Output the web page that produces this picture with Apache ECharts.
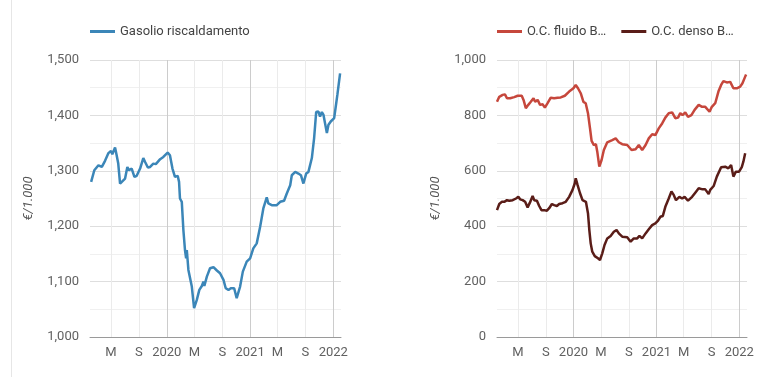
<!DOCTYPE html>
<html>
<head>
<meta charset="utf-8">
<script src="https://cdn.jsdelivr.net/npm/echarts@6/dist/echarts.min.js"></script>
<style>
  html, body { margin: 0; padding: 0; background: #fff; }
  #main { width: 770px; height: 377px; }
  .edge { position: absolute; left: 11px; top: 0; width: 1px; height: 377px; background: #e6e6e6; }
</style>
</head>
<body>
<div class="edge"></div>
<div id="main"></div>
<script>
// x axis: ticks every 4 months (M = maggio, S = settembre, year on gennaio)
const tickDates = ['2019-05-01', '2019-09-01', '2020-01-01', '2020-05-01', '2020-09-01',
  '2021-01-01', '2021-05-01', '2021-09-01', '2022-01-01'];
const xMin = '2019-01-29';
const xMax = '2022-02-04';

// Gasolio riscaldamento, €/1.000
const gasolioDates = ['2019-02-03', '2019-02-17', '2019-03-07', '2019-03-22', '2019-04-05', '2019-04-20', '2019-05-01', '2019-05-07', '2019-05-19', '2019-05-26',
  '2019-06-02', '2019-06-10', '2019-06-17', '2019-07-02', '2019-07-12', '2019-07-19', '2019-07-31', '2019-08-12', '2019-08-22', '2019-08-29',
  '2019-09-06', '2019-09-20', '2019-09-28', '2019-10-10', '2019-10-20', '2019-11-03', '2019-11-14', '2019-12-03', '2019-12-17', '2020-01-05',
  '2020-01-15', '2020-01-26', '2020-02-06', '2020-02-18', '2020-02-24', '2020-02-28', '2020-03-07', '2020-03-14', '2020-03-21', '2020-03-26',
  '2020-03-29', '2020-04-05', '2020-04-12', '2020-04-20', '2020-04-30', '2020-05-12', '2020-05-23', '2020-06-03', '2020-06-10', '2020-06-14',
  '2020-06-25', '2020-07-09', '2020-07-24', '2020-08-08', '2020-08-22', '2020-09-06', '2020-09-16', '2020-09-28', '2020-10-08', '2020-10-23',
  '2020-11-03', '2020-11-18', '2020-11-30', '2020-12-17', '2021-01-01', '2021-01-15', '2021-01-30', '2021-02-14', '2021-02-28', '2021-03-08',
  '2021-03-15', '2021-03-22', '2021-04-06', '2021-04-28', '2021-05-13', '2021-05-30', '2021-06-11', '2021-06-26', '2021-07-03', '2021-07-18',
  '2021-08-01', '2021-08-12', '2021-08-23', '2021-09-04', '2021-09-14', '2021-09-29', '2021-10-09', '2021-10-18', '2021-10-28', '2021-11-04',
  '2021-11-12', '2021-11-19', '2021-11-26', '2021-12-04', '2021-12-11', '2021-12-21', '2022-01-05', '2022-01-14', '2022-01-19', '2022-01-31'];
const gasolioValues = [1280, 1301, 1310, 1307, 1318, 1332, 1336, 1330, 1342, 1328,
  1313, 1277, 1276, 1286, 1307, 1301, 1304, 1289, 1291, 1288,
  1304, 1323, 1316, 1306, 1307, 1313, 1312, 1321, 1325, 1333,
  1328, 1304, 1289, 1291, 1280, 1250, 1244, 1193, 1157, 1142,
  1157, 1121, 1124, 1091, 1052, 1067, 1085, 1092, 1100, 1092,
  1109, 1124, 1126, 1120, 1115, 1103, 1088, 1085, 1088, 1088,
  1070, 1091, 1118, 1136, 1142, 1160, 1169, 1199, 1232, 1235,
  1252, 1241, 1238, 1238, 1244, 1246, 1259, 1274, 1292, 1298,
  1295, 1292, 1277, 1295, 1298, 1323, 1359, 1406, 1407, 1398,
  1406, 1401, 1402, 1368, 1383, 1389, 1395, 1422, 1437, 1476];

// O.C. fluido BTZ
const fluidoDates = ['2019-01-29', '2019-02-08', '2019-02-23', '2019-03-05', '2019-03-14', '2019-03-28', '2019-04-15', '2019-04-30', '2019-05-07', '2019-05-18',
  '2019-05-26', '2019-06-05', '2019-06-16', '2019-06-27', '2019-07-09', '2019-07-16', '2019-07-27', '2019-08-07', '2019-08-18', '2019-08-28',
  '2019-09-09', '2019-09-23', '2019-10-08', '2019-10-23', '2019-11-06', '2019-11-24', '2019-12-13', '2020-01-01', '2020-01-11', '2020-01-21',
  '2020-02-02', '2020-02-14', '2020-02-24', '2020-03-05', '2020-03-14', '2020-03-21', '2020-03-31', '2020-04-09', '2020-04-15', '2020-04-24',
  '2020-05-04', '2020-05-14', '2020-05-29', '2020-06-20', '2020-07-05', '2020-07-19', '2020-08-03', '2020-08-25', '2020-09-13', '2020-10-01',
  '2020-10-15', '2020-10-30', '2020-11-14', '2020-11-28', '2020-12-13', '2020-12-27', '2021-01-11', '2021-01-26', '2021-02-09', '2021-02-24',
  '2021-03-11', '2021-03-25', '2021-04-06', '2021-04-16', '2021-04-26', '2021-05-08', '2021-05-20', '2021-06-04', '2021-06-18', '2021-07-06',
  '2021-07-21', '2021-08-04', '2021-08-23', '2021-09-02', '2021-09-17', '2021-10-01', '2021-10-13', '2021-10-23', '2021-11-07', '2021-11-22',
  '2021-11-29', '2021-12-06', '2021-12-21', '2022-01-05', '2022-01-15', '2022-01-27', '2022-01-31'];
const fluidoValues = [849, 867, 874, 876, 862, 862, 866, 871, 864, 871,
  856, 826, 838, 849, 862, 849, 856, 838, 840, 828,
  844, 864, 862, 864, 865, 871, 886, 898, 910, 898,
  880, 849, 844, 808, 753, 708, 693, 696, 669, 615,
  639, 675, 703, 711, 717, 703, 696, 693, 675, 678,
  693, 675, 693, 717, 732, 729, 753, 771, 792, 808,
  811, 790, 792, 808, 801, 811, 795, 801, 820, 838,
  831, 831, 813, 831, 844, 886, 910, 924, 919, 921,
  916, 898, 898, 904, 916, 940, 948];

// O.C. denso BTZ
const densoDates = ['2019-01-29', '2019-02-08', '2019-02-19', '2019-03-02', '2019-03-14', '2019-03-24', '2019-04-08', '2019-04-23', '2019-05-03', '2019-05-11',
  '2019-05-22', '2019-06-02', '2019-06-13', '2019-06-23', '2019-07-05', '2019-07-12', '2019-07-24', '2019-08-03', '2019-08-13', '2019-08-25',
  '2019-09-06', '2019-09-16', '2019-09-28', '2019-10-08', '2019-10-20', '2019-10-30', '2019-11-14', '2019-11-28', '2019-12-13', '2019-12-28',
  '2020-01-07', '2020-01-11', '2020-01-19', '2020-01-30', '2020-02-10', '2020-02-17', '2020-02-25', '2020-03-05', '2020-03-11', '2020-03-17',
  '2020-03-24', '2020-04-04', '2020-04-12', '2020-04-18', '2020-04-27', '2020-05-07', '2020-05-17', '2020-05-29', '2020-06-13', '2020-06-27',
  '2020-07-09', '2020-07-19', '2020-08-03', '2020-08-25', '2020-09-09', '2020-09-23', '2020-10-08', '2020-10-18', '2020-10-30', '2020-11-14',
  '2020-11-28', '2020-12-13', '2020-12-27', '2021-01-08', '2021-01-18', '2021-01-29', '2021-02-09', '2021-02-24', '2021-03-08', '2021-03-18',
  '2021-03-28', '2021-04-12', '2021-04-24', '2021-05-05', '2021-05-20', '2021-06-07', '2021-06-21', '2021-07-06', '2021-07-23', '2021-08-04',
  '2021-08-19', '2021-08-26', '2021-09-10', '2021-09-24', '2021-10-13', '2021-10-31', '2021-11-14', '2021-11-26', '2021-12-06', '2021-12-17',
  '2021-12-31', '2022-01-12', '2022-01-19', '2022-01-27'];
const densoValues = [458, 480, 488, 488, 494, 492, 494, 500, 506, 497,
  494, 488, 468, 485, 509, 494, 492, 473, 458, 458,
  456, 465, 480, 476, 473, 480, 483, 488, 506, 531,
  555, 573, 549, 519, 494, 500, 488, 447, 386, 338,
  308, 292, 296, 284, 278, 302, 332, 356, 365, 380,
  386, 374, 362, 360, 344, 356, 356, 365, 356, 374,
  389, 404, 410, 420, 434, 437, 470, 500, 525, 513,
  494, 506, 500, 506, 492, 506, 521, 537, 533, 533,
  516, 531, 545, 579, 613, 615, 609, 621, 579, 597,
  597, 613, 633, 663];

const font = 'Roboto';
const ts = d => echarts.time.parse(d).getTime();
const zip = (dates, values) => dates.map((d, i) => [ts(d), values[i]]);
const tickValues = tickDates.map(ts);

function monthLabel(value) {
  const dt = new Date(value);
  const m = dt.getMonth();
  if (m === 0) return String(dt.getFullYear());
  if (m === 4) return 'M';
  if (m === 8) return 'S';
  return '';
}

// value axis holding timestamps, so the 4-month ticks can be set by hand
function xAxis(gridIndex) {
  return {
    type: 'value',
    gridIndex,
    min: ts(xMin),
    max: ts(xMax),
    axisLine: {lineStyle: {color: '#9a9a9a', width: 1}},
    axisTick: {show: false, customValues: tickValues},
    axisLabel: {
      customValues: tickValues,
      formatter: monthLabel,
      color: '#616161',
      fontFamily: font,
      fontSize: 13,
      margin: 9
    },
    splitLine: {show: true, lineStyle: {color: ['#ebebeb', '#ebebeb', '#cccccc'], width: 1}}
  };
}

function yAxis(gridIndex, min, max, interval) {
  return {
    type: 'value',
    gridIndex,
    min,
    max,
    interval,
    name: '€/1.000',
    nameLocation: 'middle',
    nameGap: 55,
    nameTextStyle: {color: '#555', fontFamily: font, fontSize: 13, fontStyle: 'italic'},
    axisLine: {show: false},
    axisTick: {show: false},
    axisLabel: {
      color: '#616161',
      fontFamily: font,
      fontSize: 13,
      margin: 11,
      formatter: v => v.toLocaleString('en-US')
    },
    splitLine: {lineStyle: {color: '#dedede'}},
    minorTick: {show: false, splitNumber: 2},
    minorSplitLine: {show: true, lineStyle: {color: '#f0f0f0'}}
  };
}

const myChart = echarts.init(document.getElementById('main'), null, {renderer: 'canvas'});

const lineSeries = (name, xi, dates, values, color) => ({
  name,
  type: 'line',
  xAxisIndex: xi,
  yAxisIndex: xi,
  data: zip(dates, values),
  symbol: 'none',
  lineStyle: {color, width: 2.5},
  itemStyle: {color}
});

const legendBase = {
  top: 25,
  padding: 0,
  icon: 'rect',
  itemWidth: 25,
  itemHeight: 3,
  textStyle: {color: '#444', fontFamily: font, fontSize: 13}
};

const option = {
  animation: false,
  grid: [
    {left: 90, right: 429, top: 60, bottom: 40},
    {left: 497, right: 23, top: 60, bottom: 40}
  ],
  legend: [
    Object.assign({}, legendBase, {left: 90, data: ['Gasolio riscaldamento']}),
    Object.assign({}, legendBase, {
      left: 497,
      itemGap: 15,
      textStyle: {color: '#444', fontFamily: font, fontSize: 13, width: 85, overflow: 'truncate', ellipsis: '…'},
      data: ['O.C. fluido BTZ', 'O.C. denso BTZ']
    })
  ],
  xAxis: [xAxis(0), xAxis(1)],
  yAxis: [yAxis(0, 1000, 1500, 100), yAxis(1, 0, 1000, 200)],
  series: [
    lineSeries('Gasolio riscaldamento', 0, gasolioDates, gasolioValues, '#3b86b8'),
    lineSeries('O.C. fluido BTZ', 1, fluidoDates, fluidoValues, '#c6473c'),
    lineSeries('O.C. denso BTZ', 1, densoDates, densoValues, '#5a1d18')
  ]
};

myChart.setOption(option);
</script>
</body>
</html>
